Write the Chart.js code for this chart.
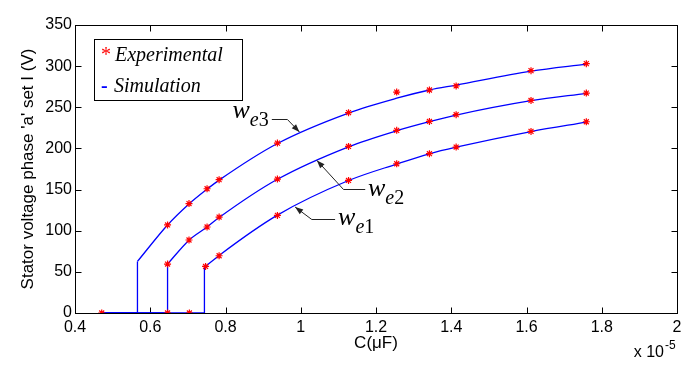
<!DOCTYPE html>
<html>
<head>
<meta charset="utf-8">
<script src="https://cdn.jsdelivr.net/npm/chart.js@4"></script>
<style>
  html, body { margin: 0; padding: 0; background: #fff; }
  #wrap { width: 693px; height: 366px; }
</style>
</head>
<body>
<div id="wrap"><canvas id="chart"></canvas></div>
<script>
// capacitance in units of 1e-5 F, voltage in V
const startC = 0.471;

const we3SimC = [0.566, 0.646, 0.703, 0.751, 0.783, 0.938, 1.127, 1.255, 1.342, 1.413, 1.612, 1.759];
const we3SimV = [62.7, 107, 132.5, 150.5, 161.5, 206, 243, 261, 271, 277, 294, 302.5];
const we2SimC = [0.646, 0.703, 0.751, 0.783, 0.938, 1.127, 1.255, 1.342, 1.413, 1.612, 1.759];
const we2SimV = [59.5, 88.5, 104.5, 116, 162.5, 202, 221.5, 232.5, 240.5, 258, 267];
const we1SimC = [0.744, 0.783, 0.938, 1.127, 1.255, 1.342, 1.413, 1.612, 1.759];
const we1SimV = [55.5, 70, 119, 161, 181, 193.5, 201.5, 220.5, 232];

const we3ExpC = [0.646, 0.703, 0.751, 0.783, 0.938, 1.127, 1.255, 1.342, 1.413, 1.612, 1.759];
const we3ExpV = [107, 133, 151, 162, 206.5, 243.5, 268.5, 271, 276, 294.5, 303];
const we2ExpC = [0.646, 0.703, 0.751, 0.783, 0.938, 1.127, 1.255, 1.342, 1.413, 1.612, 1.759];
const we2ExpV = [59.5, 88.7, 104.5, 116.6, 162.8, 202.4, 222, 232.8, 241, 258.3, 267.3];
const we1ExpC = [0.747, 0.783, 0.938, 1.127, 1.255, 1.342, 1.413, 1.612, 1.759];
const we1ExpV = [56.6, 69.6, 118.6, 161.1, 181.4, 193.6, 201.7, 220.7, 232.4];
const zeroExpC = [0.471, 0.646, 0.704];
const zeroExpV = [0, 0, 0];

const xTicks = [0.4, 0.6, 0.8, 1, 1.2, 1.4, 1.6, 1.8, 2];
const yTicks = [0, 50, 100, 150, 200, 250, 300, 350];

const BLUE = '#0000ff';
const RED = '#ff0000';

function pts(cs, vs) {
  return cs.map((c, i) => ({ x: c, y: vs[i] }));
}
// flat part at 0 and the jump up to the first simulated value
function stepPts(cs, vs) {
  return [{ x: startC, y: 0 }, { x: cs[0], y: 0 }, { x: cs[0], y: vs[0] }];
}

function simSet(cs, vs) {
  return {
    data: pts(cs, vs), borderColor: BLUE, borderWidth: 1.3, pointRadius: 0,
    cubicInterpolationMode: 'monotone', fill: false, order: 2
  };
}
function stepSet(cs, vs) {
  return {
    data: stepPts(cs, vs), borderColor: BLUE, borderWidth: 1.3, pointRadius: 0,
    tension: 0, fill: false, order: 2
  };
}
function expSet(cs, vs) {
  return {
    data: pts(cs, vs), showLine: false, pointStyle: 'star', pointRadius: 3.5,
    borderColor: RED, backgroundColor: RED, pointBorderWidth: 1.2, order: 1
  };
}

const annotations = [
  { main: 'w', sub: 'e', num: '3', tip: [0.9965, 220], elbow: [-12, -13], end: [-27.6, -13], text: [-67, -14] },
  { main: 'w', sub: 'e', num: '2', tip: [1.043, 185.4], elbow: [26.6, 28.6], end: [48.3, 28.6], text: [51, 36] },
  { main: 'w', sub: 'e', num: '1', tip: [0.985, 128.8], elbow: [16.7, 12], end: [40, 12], text: [43, 17.5] }
];

const matlabLook = {
  id: 'matlabLook',
  beforeDatasetsDraw(chart) {
    const { ctx, chartArea: a, scales: { x, y } } = chart;
    const L = Math.round(a.left) + 0.5, R = Math.round(a.right) + 0.5;
    const T = Math.round(a.top) + 0.5, B = Math.round(a.bottom) + 0.5;
    ctx.save();
    ctx.strokeStyle = '#000';
    ctx.lineWidth = 1;
    ctx.strokeRect(L, T, R - L, B - T);
    ctx.beginPath();
    xTicks.forEach(v => {
      const px = Math.round(x.getPixelForValue(v)) + 0.5;
      ctx.moveTo(px, B); ctx.lineTo(px, B - 6);
      ctx.moveTo(px, T); ctx.lineTo(px, T + 6);
    });
    yTicks.forEach(v => {
      const py = Math.round(y.getPixelForValue(v)) + 0.5;
      ctx.moveTo(L, py); ctx.lineTo(L + 6, py);
      ctx.moveTo(R, py); ctx.lineTo(R - 6, py);
    });
    ctx.stroke();
    ctx.restore();
  },
  afterDraw(chart) {
    const { ctx, scales: { x, y } } = chart;
    ctx.save();

    // legend box
    const lx = 94.5, ly = 39.5;
    ctx.fillStyle = '#fff';
    ctx.fillRect(lx, ly, 148, 61);
    ctx.strokeStyle = '#000';
    ctx.lineWidth = 1;
    ctx.strokeRect(lx, ly, 148, 61);
    ctx.textBaseline = 'alphabetic';
    ctx.textAlign = 'left';
    ctx.font = '20px "Liberation Serif"';
    ctx.fillStyle = RED;
    ctx.fillText('*', 101, 61);
    ctx.fillStyle = BLUE;
    ctx.font = 'bold 20px "Liberation Serif"';
    ctx.fillText('-', 101, 92);
    ctx.fillStyle = '#000';
    ctx.font = 'italic 20px "Liberation Serif"';
    ctx.fillText('Experimental', 115, 61);
    ctx.fillText('Simulation', 114, 92);

    // curve labels with leader arrows
    annotations.forEach(an => {
      const tx = x.getPixelForValue(an.tip[0]);
      const ty = y.getPixelForValue(an.tip[1]);
      const ex = tx + an.elbow[0], ey = Math.round(ty + an.elbow[1]) + 0.5;
      const nx = tx + an.end[0];
      ctx.strokeStyle = '#222';
      ctx.fillStyle = '#222';
      ctx.lineWidth = 1;
      ctx.beginPath();
      ctx.moveTo(nx, ey);
      ctx.lineTo(ex, ey);
      ctx.lineTo(tx, ty);
      ctx.stroke();
      const ang = Math.atan2(ty - ey, tx - ex);
      ctx.beginPath();
      ctx.moveTo(tx, ty);
      ctx.lineTo(tx - 8 * Math.cos(ang) + 3 * Math.sin(ang), ty - 8 * Math.sin(ang) - 3 * Math.cos(ang));
      ctx.lineTo(tx - 8 * Math.cos(ang) - 3 * Math.sin(ang), ty - 8 * Math.sin(ang) + 3 * Math.cos(ang));
      ctx.closePath();
      ctx.fill();
      const bx = tx + an.text[0], by = ty + an.text[1];
      ctx.fillStyle = '#000';
      ctx.font = 'italic 26px "Liberation Serif"';
      ctx.fillText(an.main, bx, by);
      let cx = bx + ctx.measureText(an.main).width;
      ctx.font = 'italic 20px "Liberation Serif"';
      ctx.fillText(an.sub, cx, by + 8);
      cx += ctx.measureText(an.sub).width;
      ctx.font = '20px "Liberation Serif"';
      ctx.fillText(an.num, cx, by + 8);
    });

    // axis multiplier
    ctx.fillStyle = '#000';
    ctx.font = '16px "Liberation Sans"';
    ctx.textAlign = 'right';
    ctx.fillText('x 10', 664, 357);
    ctx.textAlign = 'left';
    ctx.font = '12px "Liberation Sans"';
    ctx.fillText('-5', 665, 349);
    ctx.restore();
  }
};

new Chart(document.getElementById('chart'), {
  type: 'line',
  data: {
    datasets: [
      expSet(we3ExpC, we3ExpV),
      expSet(we2ExpC, we2ExpV),
      expSet(we1ExpC, we1ExpV),
      expSet(zeroExpC, zeroExpV),
      simSet(we3SimC, we3SimV),
      simSet(we2SimC, we2SimV),
      simSet(we1SimC, we1SimV),
      stepSet(we3SimC, we3SimV),
      stepSet(we2SimC, we2SimV),
      stepSet(we1SimC, we1SimV)
    ]
  },
  options: {
    responsive: true,
    maintainAspectRatio: false,
    animation: false,
    layout: { padding: { top: 25, right: 16, left: 0, bottom: 0 } },
    plugins: { legend: { display: false }, tooltip: { enabled: false } },
    scales: {
      x: {
        type: 'linear',
        min: 0.4,
        max: 2,
        afterFit: s => { s.height = 53; },
        afterBuildTicks: s => { s.ticks = xTicks.map(v => ({ value: v })); },
        grid: { display: false, drawTicks: false },
        border: { display: false },
        ticks: {
          color: '#000',
          padding: 5,
          maxRotation: 0,
          font: { family: '"Liberation Sans", Arial', size: 16 },
          callback: v => String(Number(v.toFixed(1)))
        },
        title: {
          display: true,
          text: 'C(μF)',
          color: '#000',
          padding: { bottom: 12, top: 0 },
          font: { family: '"Liberation Sans", Arial', size: 17 }
        }
      },
      y: {
        min: 0,
        max: 350,
        afterFit: s => { s.width = 75; },
        afterBuildTicks: s => { s.ticks = yTicks.map(v => ({ value: v })); },
        grid: { display: false, drawTicks: false },
        border: { display: false },
        ticks: {
          color: '#000',
          padding: 3,
          font: { family: '"Liberation Sans", Arial', size: 16 }
        },
        title: {
          display: true,
          text: "Stator voltage phase 'a' set I (V)",
          color: '#000',
          padding: { top: 18, bottom: 0 },
          font: { family: '"Liberation Sans", Arial', size: 17 }
        }
      }
    }
  },
  plugins: [matlabLook]
});
</script>
</body>
</html>
